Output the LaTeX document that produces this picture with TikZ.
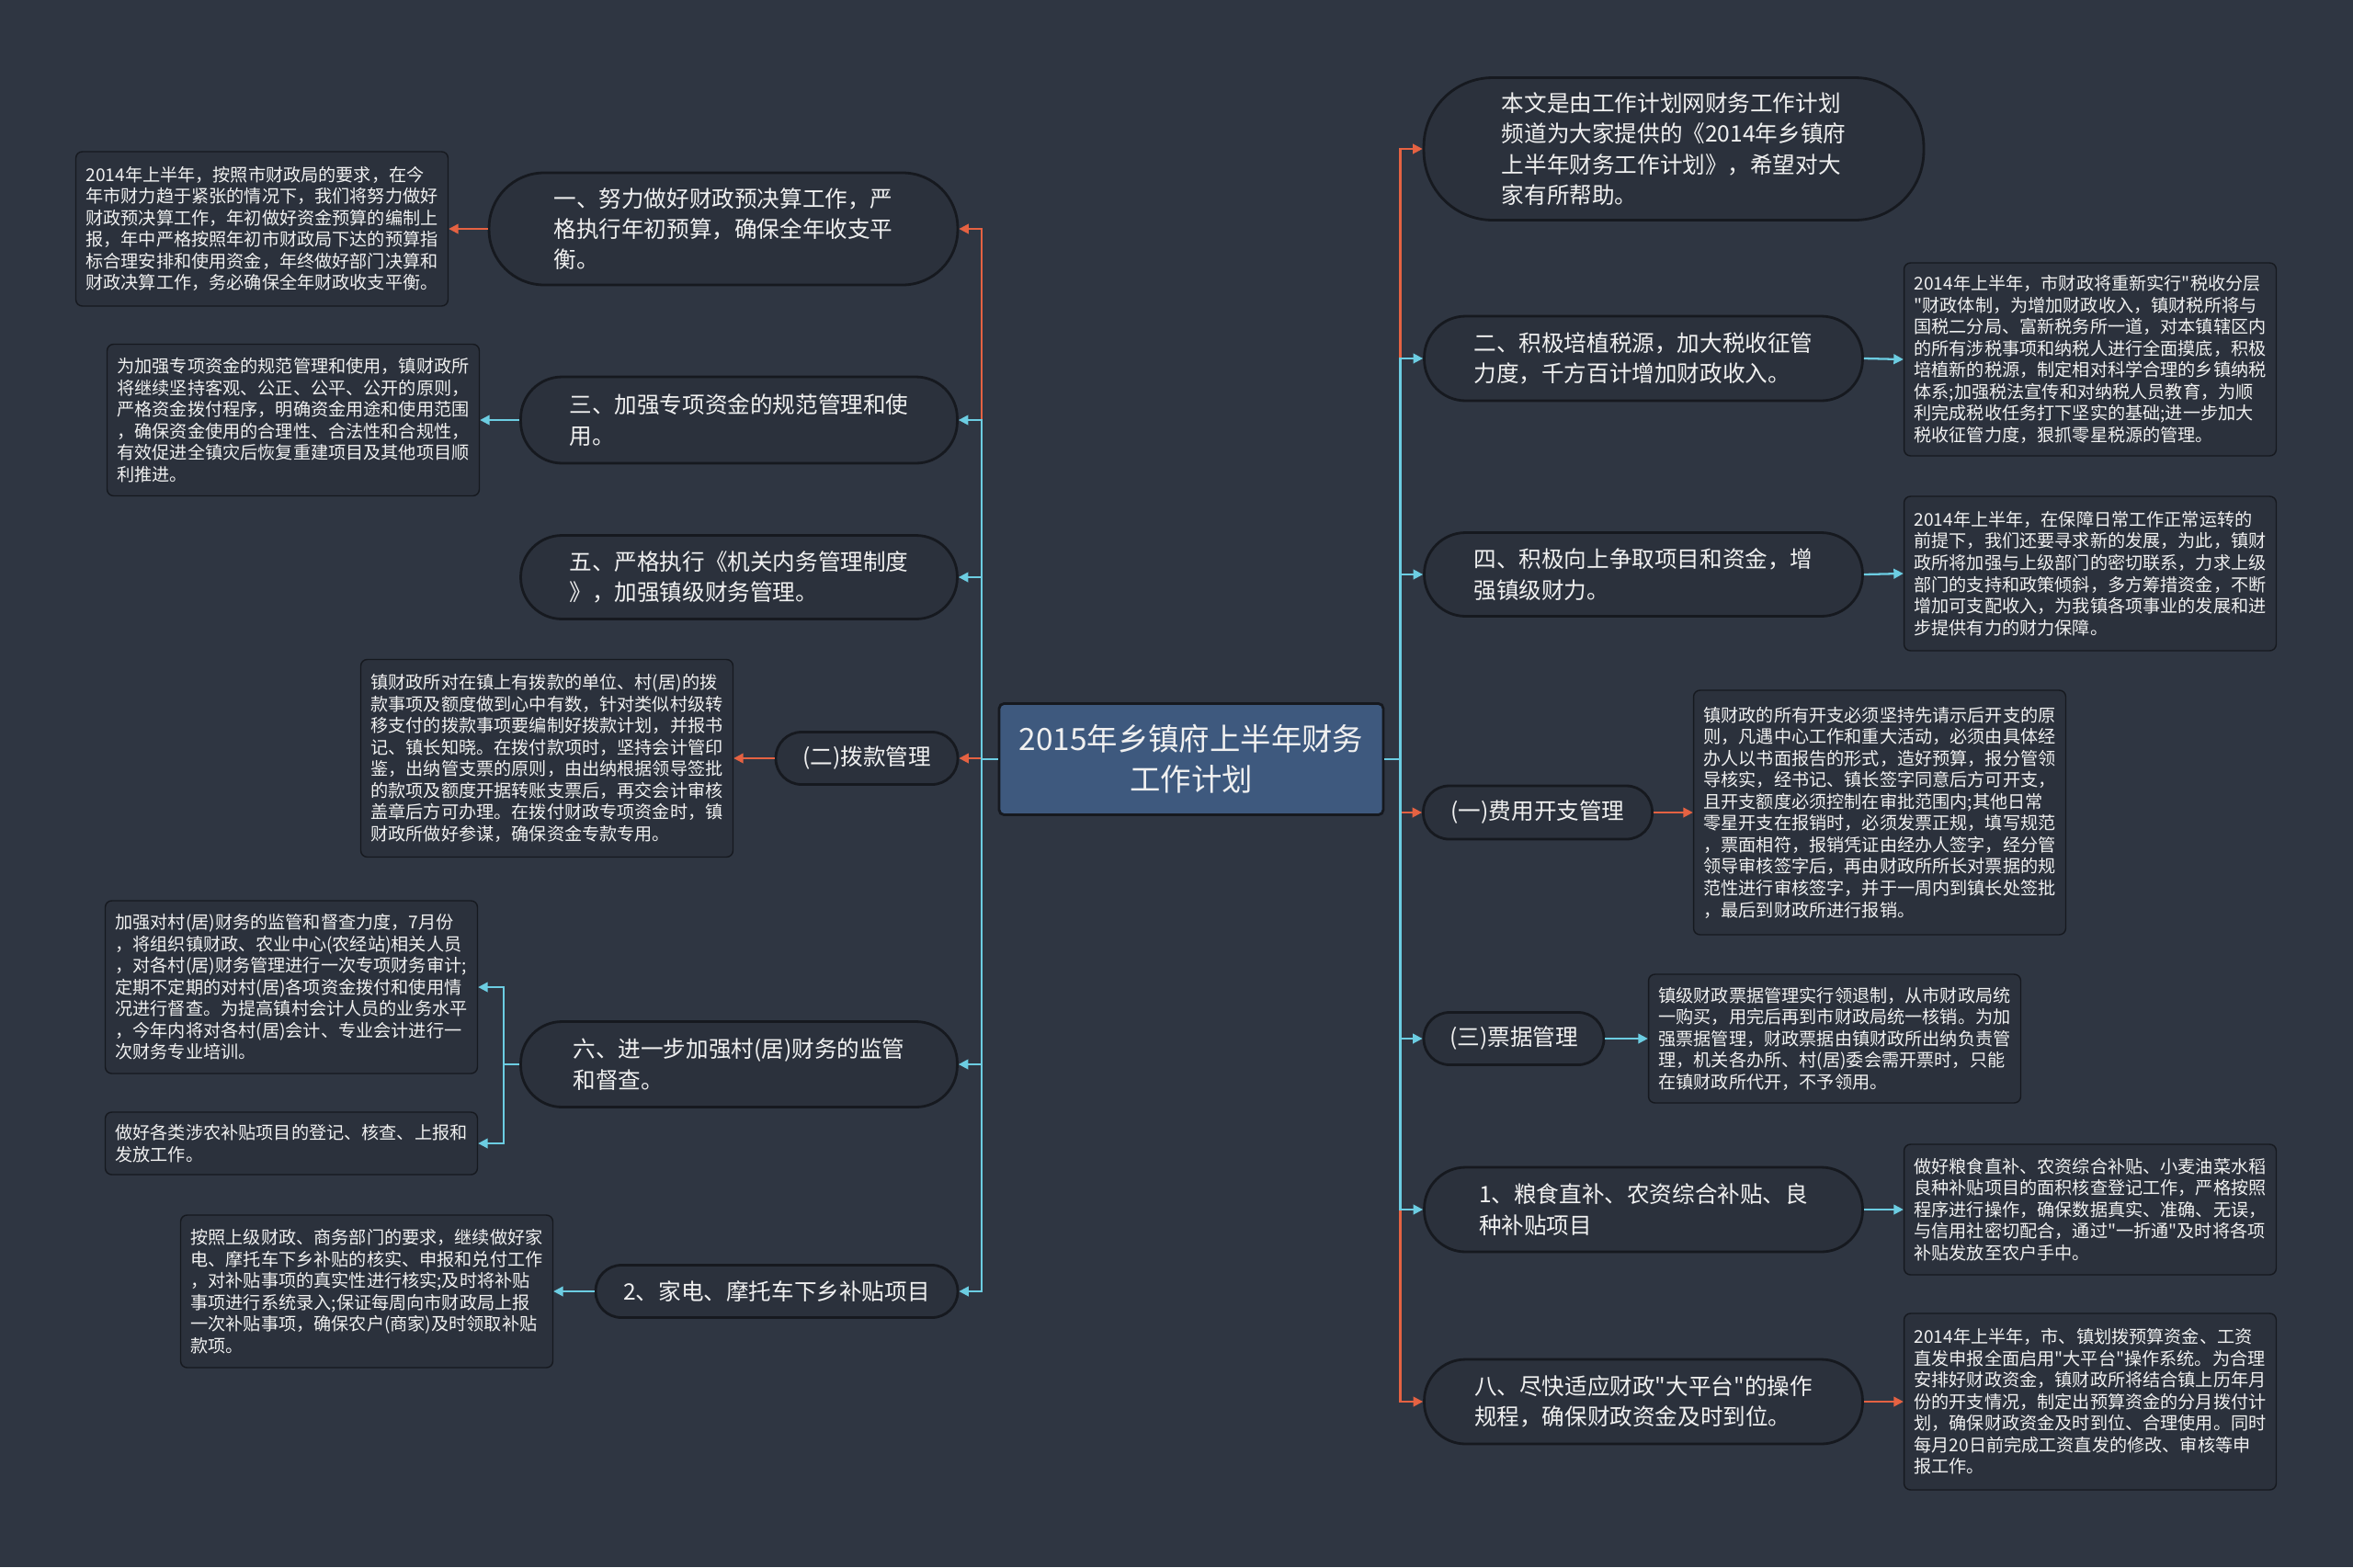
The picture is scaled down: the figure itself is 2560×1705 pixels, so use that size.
\documentclass[tikz,border=0pt]{standalone}
\usepackage{fontspec}
\setmainfont{Noto Sans CJK SC}
\newfontfamily\mapfont{Noto Sans CJK SC}
\usetikzlibrary{arrows.meta, calc}
\definecolor{MapBack}{RGB}{47, 54, 66}
\definecolor{MapFill}{RGB}{43, 49, 60}
\definecolor{MapEdge}{RGB}{22, 25, 31}
\definecolor{MapTopic}{RGB}{62, 89, 126}
\definecolor{MapOrange}{RGB}{229, 98, 66}
\definecolor{MapCyan}{RGB}{108, 205, 226}
\definecolor{MapText}{RGB}{240, 240, 240}

\begin{document}
\begin{tikzpicture}[
    x=0.02cm, y=-0.02cm,
    every node/.style={text=MapText, align=left},
    topic/.style={rectangle, draw=MapEdge, fill=MapTopic, rounded corners=3pt, line width=1.6pt, minimum width=8.36cm, minimum height=2.42cm, align=center, font=\mapfont\fontsize{19}{25}\selectfont},
    branch/.style={rectangle, draw=MapEdge, fill=MapFill, rounded corners=#1, line width=1.6pt, font=\mapfont\fontsize{14}{19}\selectfont},
    branch/.default=0.9cm,
    note/.style={rectangle, draw=MapEdge, fill=MapFill, rounded corners=4pt, line width=0.8pt, minimum width=8.1cm, inner sep=3pt, font=\mapfont\fontsize{10.9}{13.4}\selectfont},
    hot/.style={-{Triangle[length=6pt, width=6pt]}, draw=MapOrange, line width=1.3pt},
    cool/.style={-{Triangle[length=6pt, width=6pt]}, draw=MapCyan, line width=1.3pt}
  ]
    \fill[MapBack] (0,0) rectangle (2560,1705);
    \useasboundingbox (0,0) rectangle (2560,1705);

    % Topic
    \node[topic] (topic) at (1296,826) {2015年乡镇府上半年财务\\工作计划};

    % Left branches
    \node[branch=1.2cm, minimum width=10.2cm, minimum height=2.44cm] (l1) at (787,249) {一、努力做好财政预决算工作，严\\格执行年初预算，确保全年收支平\\衡。};
    \node[branch, minimum width=9.5cm, minimum height=1.88cm] (l2) at (804,457) {三、加强专项资金的规范管理和使\\用。};
    \node[branch, minimum width=9.5cm, minimum height=1.82cm] (l3) at (804,628) {五、严格执行《机关内务管理制度\\》，加强镇级财务管理。};
    \node[branch=0.56cm, minimum width=3.96cm, minimum height=1.14cm] (l4) at (943,825) {(二)拨款管理};
    \node[branch, minimum width=9.5cm, minimum height=1.86cm] (l5) at (804,1158) {六、进一步加强村(居)财务的监管\\和督查。};
    \node[branch=0.56cm, minimum width=7.88cm, minimum height=1.14cm] (l6) at (845,1405) {2、家电、摩托车下乡补贴项目};

    % Right branches
    \node[branch=1.5cm, minimum width=10.88cm, minimum height=3.1cm] (r1) at (1821,162) {本文是由工作计划网财务工作计划\\频道为大家提供的《2014年乡镇府\\上半年财务工作计划》，希望对大\\家有所帮助。};
    \node[branch, minimum width=9.54cm, minimum height=1.84cm] (r2) at (1788,390) {二、积极培植税源，加大税收征管\\力度，千方百计增加财政收入。};
    \node[branch, minimum width=9.54cm, minimum height=1.82cm] (r3) at (1788,625) {四、积极向上争取项目和资金，增\\强镇级财力。};
    \node[branch=0.56cm, minimum width=4.98cm, minimum height=1.16cm] (r4) at (1673,884) {(一)费用开支管理};
    \node[branch=0.56cm, minimum width=3.92cm, minimum height=1.14cm] (r5) at (1647,1130) {(三)票据管理};
    \node[branch, minimum width=9.54cm, minimum height=1.84cm] (r6) at (1788,1316) {1、粮食直补、农资综合补贴、良\\种补贴项目};
    \node[branch, minimum width=9.54cm, minimum height=1.84cm] (r7) at (1788,1525) {八、尽快适应财政"大平台"的操作\\规程，确保财政资金及时到位。};

    % Left notes
    \node[note, minimum height=3.36cm] (nl1) at (285,249) {2014年上半年，按照市财政局的要求，在今\\年市财力趋于紧张的情况下，我们将努力做好\\财政预决算工作，年初做好资金预算的编制上\\报，年中严格按照年初市财政局下达的预算指\\标合理安排和使用资金，年终做好部门决算和\\财政决算工作，务必确保全年财政收支平衡。};
    \node[note, minimum height=3.3cm] (nl2) at (319,457) {为加强专项资金的规范管理和使用，镇财政所\\将继续坚持客观、公正、公平、公开的原则，\\严格资金拨付程序，明确资金用途和使用范围\\，确保资金使用的合理性、合法性和合规性，\\有效促进全镇灾后恢复重建项目及其他项目顺\\利推进。};
    \node[note, minimum height=4.3cm] (nl4) at (595,825) {镇财政所对在镇上有拨款的单位、村(居)的拨\\款事项及额度做到心中有数，针对类似村级转\\移支付的拨款事项要编制好拨款计划，并报书\\记、镇长知晓。在拨付款项时，坚持会计管印\\鉴，出纳管支票的原则，由出纳根据领导签批\\的款项及额度开据转账支票后，再交会计审核\\盖章后方可办理。在拨付财政专项资金时，镇\\财政所做好参谋，确保资金专款专用。};
    \node[note, minimum height=3.76cm] (nl5a) at (317,1074) {加强对村(居)财务的监管和督查力度，7月份\\，将组织镇财政、农业中心(农经站)相关人员\\，对各村(居)财务管理进行一次专项财务审计;\\定期不定期的对村(居)各项资金拨付和使用情\\况进行督查。为提高镇村会计人员的业务水平\\，今年内将对各村(居)会计、专业会计进行一\\次财务专业培训。};
    \node[note, minimum height=1.36cm] (nl5b) at (317,1244) {做好各类涉农补贴项目的登记、核查、上报和\\发放工作。};
    \node[note, minimum height=3.32cm] (nl6) at (399,1405) {按照上级财政、商务部门的要求，继续做好家\\电、摩托车下乡补贴的核实、申报和兑付工作\\，对补贴事项的真实性进行核实;及时将补贴\\事项进行系统录入;保证每周向市财政局上报\\一次补贴事项，确保农户(商家)及时领取补贴\\款项。};

    % Right notes
    \node[note, minimum height=4.2cm] (nr2) at (2274,391) {2014年上半年，市财政将重新实行"税收分层\\"财政体制，为增加财政收入，镇财税所将与\\国税二分局、富新税务所一道，对本镇辖区内\\的所有涉税事项和纳税人进行全面摸底，积极\\培植新的税源，制定相对科学合理的乡镇纳税\\体系;加强税法宣传和对纳税人员教育，为顺\\利完成税收任务打下坚实的基础;进一步加大\\税收征管力度，狠抓零星税源的管理。};
    \node[note, minimum height=3.36cm] (nr3) at (2274,624) {2014年上半年，在保障日常工作正常运转的\\前提下，我们还要寻求新的发展，为此，镇财\\政所将加强与上级部门的密切联系，力求上级\\部门的支持和政策倾斜，多方筹措资金，不断\\增加可支配收入，为我镇各项事业的发展和进\\步提供有力的财力保障。};
    \node[note, minimum height=5.32cm] (nr4) at (2045,884) {镇财政的所有开支必须坚持先请示后开支的原\\则，凡遇中心工作和重大活动，必须由具体经\\办人以书面报告的形式，造好预算，报分管领\\导核实，经书记、镇长签字同意后方可开支，\\且开支额度必须控制在审批范围内;其他日常\\零星开支在报销时，必须发票正规，填写规范\\，票面相符，报销凭证由经办人签字，经分管\\领导审核签字后，再由财政所所长对票据的规\\范性进行审核签字，并于一周内到镇长处签批\\，最后到财政所进行报销。};
    \node[note, minimum height=2.8cm] (nr5) at (1996,1130) {镇级财政票据管理实行领退制，从市财政局统\\一购买，用完后再到市财政局统一核销。为加\\强票据管理，财政票据由镇财政所出纳负责管\\理，机关各办所、村(居)委会需开票时，只能\\在镇财政所代开，不予领用。};
    \node[note, minimum height=2.84cm] (nr6) at (2274,1316) {做好粮食直补、农资综合补贴、小麦油菜水稻\\良种补贴项目的面积核查登记工作，严格按照\\程序进行操作，确保数据真实、准确、无误，\\与信用社密切配合，通过"一折通"及时将各项\\补贴发放至农户手中。};
    \node[note, minimum height=3.84cm] (nr7) at (2274,1525) {2014年上半年，市、镇划拨预算资金、工资\\直发申报全面启用"大平台"操作系统。为合理\\安排好财政资金，镇财政所将结合镇上历年月\\份的开支情况，制定出预算资金的分月拨付计\\划，确保财政资金及时到位、合理使用。同时\\每月20日前完成工资直发的修改、审核等申\\报工作。};

    % Topic to branches
    \draw[hot] (topic.west) -- ++(-18,0) |- (l1.east);
    \draw[hot] (topic.west) -- ++(-18,0) |- (l4.east);
    \draw[hot] (topic.east) -- ++(17,0) |- (r1.west);
    \draw[hot] (topic.east) -- ++(17,0) |- (r4.west);
    \draw[hot] (topic.east) -- ++(17,0) |- (r7.west);
    \draw[cool] (topic.west) -- ++(-18,0) |- (l2.east);
    \draw[cool] (topic.west) -- ++(-18,0) |- (l3.east);
    \draw[cool] (topic.west) -- ++(-18,0) |- (l5.east);
    \draw[cool] (topic.west) -- ++(-18,0) |- (l6.east);
    \draw[cool] (topic.east) -- ++(17,0) |- (r2.west);
    \draw[cool] (topic.east) -- ++(17,0) |- (r3.west);
    \draw[cool] (topic.east) -- ++(17,0) |- (r5.west);
    \draw[cool] (topic.east) -- ++(17,0) |- (r6.west);

    % Branches to notes
    \draw[hot] (l1.west) -- (nl1.east);
    \draw[cool] (l2.west) -- (nl2.east);
    \draw[hot] (l4.west) -- (nl4.east);
    \draw[cool] (l5.west) -- ++(-17,0) |- (nl5a.east);
    \draw[cool] (l5.west) -- ++(-17,0) |- (nl5b.east);
    \draw[cool] (l6.west) -- (nl6.east);
    \draw[cool] (r2.east) -- (nr2.west);
    \draw[cool] (r3.east) -- (nr3.west);
    \draw[hot] (r4.east) -- (nr4.west);
    \draw[cool] (r5.east) -- (nr5.west);
    \draw[cool] (r6.east) -- (nr6.west);
    \draw[hot] (r7.east) -- (nr7.west);
  \end{tikzpicture}
\end{document}
